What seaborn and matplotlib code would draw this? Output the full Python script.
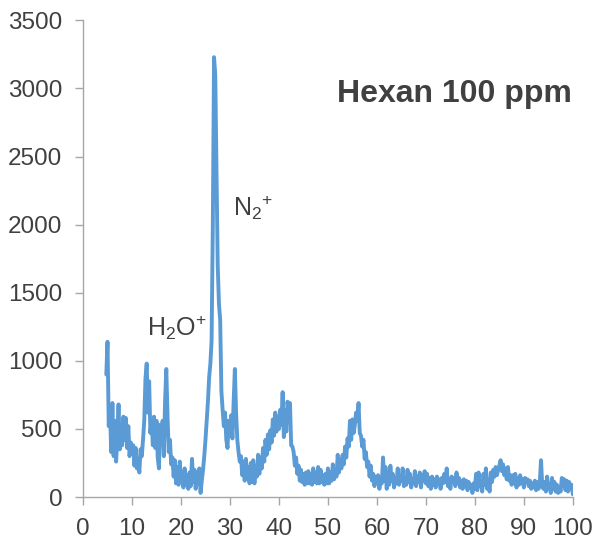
import numpy as np
import pandas as pd
import matplotlib
matplotlib.use("Agg")
import matplotlib.pyplot as plt
import seaborn as sns

# m/z sampling: first point at 4.75, step 0.25
mz_start = 4.75
mz_step = 0.25

intensity = [
    900,
    1140, 520, 650, 330,
    690, 300, 560, 260,
    430, 680, 350, 470,
    380, 590, 420, 580,
    360, 520, 300, 400,
    330, 380, 230, 360,
    210, 260, 180, 350,
    300, 420, 560, 870,
    980, 620, 850, 470,
    560, 380, 590, 360,
    560, 290, 210, 530,
    440, 560, 300, 700,
    940, 600, 330, 420,
    240, 290, 150, 270,
    100, 220, 90, 260,
    120, 180, 70, 210,
    90, 160, 60, 180,
    80, 280, 110, 200,
    60, 180, 100, 210,
    30, 120, 200, 300,
    420, 560, 700, 880,
    980, 1150, 2000, 3230,
    3100, 2400, 1700, 1420,
    1300, 780, 640, 520,
    620, 420, 360, 560,
    480, 600, 430, 700,
    940, 620, 420, 330,
    260, 300, 160, 260,
    120, 280, 130, 220,
    100, 250, 110, 270,
    100, 230, 150, 310,
    170, 290, 210, 360,
    260, 420, 310, 460,
    350, 490, 400, 570,
    450, 620, 480, 590,
    500, 640, 530, 770,
    440, 640, 480, 700,
    600, 690, 380, 370,
    330, 230, 290, 170,
    230, 120, 200, 110,
    170, 90, 180, 100,
    190, 100, 170, 90,
    210, 110, 180, 100,
    220, 100, 200, 110,
    160, 90, 170, 100,
    210, 100, 180, 120,
    240, 130, 190, 150,
    310, 180, 280, 210,
    310, 240, 370, 290,
    430, 370, 560, 420,
    570, 470, 530, 620,
    560, 690, 470, 450,
    370, 420, 280, 330,
    220, 260, 150, 230,
    120, 170, 80, 150,
    110, 160, 60, 130,
    100, 290, 120, 220,
    60, 180, 90, 230,
    120, 170, 70, 140,
    100, 210, 90, 150,
    120, 210, 80, 140,
    90, 200, 110, 170,
    70, 130, 100, 190,
    80, 150, 110, 180,
    70, 160, 120, 190,
    100, 170, 80, 140,
    60, 150, 90, 130,
    70, 150, 100, 130,
    60, 140, 100, 170,
    110, 210, 80, 130,
    60, 150, 110, 140,
    80, 180, 100, 140,
    70, 120, 60, 130,
    80, 120, 50, 110,
    70, 90, 30, 100,
    60, 170, 50, 180,
    80, 110, 40, 170,
    90, 210, 60, 120,
    40, 180, 110, 200,
    150, 220, 160, 200,
    230, 270, 190, 240,
    160, 210, 130, 220,
    120, 160, 90, 160,
    100, 170, 70, 140,
    90, 160, 100, 130,
    70, 140, 110, 130,
    80, 120, 60, 100,
    70, 120, 50, 110,
    60, 100, 270, 90,
    60, 110, 40, 150,
    60, 90, 30, 140,
    60, 110, 40, 90,
    30, 70, 40, 140,
    80, 130, 50, 120,
    40, 110, 60, 90,
    20,
]

x_ticks = [0, 10, 20, 30, 40, 50, 60, 70, 80, 90, 100]
y_ticks = [0, 500, 1000, 1500, 2000, 2500, 3000, 3500]
title_text = "Hexan 100 ppm"
label_n2 = r"$\mathregular{N_2{}^{+}}$"
label_h2o = r"$\mathregular{H_2O^{+}}$"

mz = mz_start + mz_step * np.arange(len(intensity))
df = pd.DataFrame({"mz": mz, "intensity": intensity})

sns.set_theme(style="white")
plt.rcParams["font.family"] = ["Liberation Sans", "DejaVu Sans"]
plt.rcParams["mathtext.fontset"] = "custom"
plt.rcParams["mathtext.rm"] = "Liberation Sans"
plt.rcParams["mathtext.it"] = "Liberation Sans:italic"
plt.rcParams["mathtext.bf"] = "Liberation Sans:bold"

fig = plt.figure(figsize=(5.93, 5.41), dpi=100)
ax = fig.add_axes([0.14, 0.0813, 0.826, 0.881])

sns.lineplot(data=df, x="mz", y="intensity", ax=ax, color="#5B9BD5",
             linewidth=2.8, estimator=None, sort=False)

ax.set_xlim(0, 100)
ax.set_ylim(0, 3500)
ax.set_xticks(x_ticks)
ax.set_yticks(y_ticks)
ax.set_xlabel("")
ax.set_ylabel("")

for s in ["top", "right"]:
    ax.spines[s].set_visible(False)
for s in ["left", "bottom"]:
    ax.spines[s].set_color("#a6a6a6")
    ax.spines[s].set_linewidth(1.0)

ax.tick_params(axis="both", direction="out", length=6, width=1,
               color="#a6a6a6", labelsize=17.5, labelcolor="#404040", pad=9)
ax.tick_params(axis="x", bottom=True)
ax.tick_params(axis="y", left=True)

ax.text(75.9, 2962, title_text, ha="center", va="center",
        fontsize=23, fontweight="bold", color="#404040")
ax.text(30.6, 2067, label_n2, ha="left", va="baseline",
        fontsize=18, color="#404040")
ax.text(13.1, 1187, label_h2o, ha="left", va="baseline",
        fontsize=18, color="#404040")

fig.savefig("out.png", dpi=100)
